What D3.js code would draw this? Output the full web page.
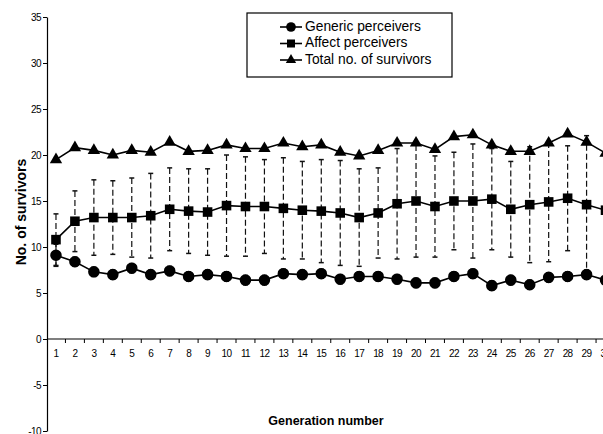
<!DOCTYPE html>
<html>
<head>
<meta charset="utf-8">
<script src="https://cdn.jsdelivr.net/npm/d3@7"></script>
<style>
  html, body { margin: 0; padding: 0; background: #fff; }
  svg { display: block; }
  text { font-family: Arial, "Liberation Sans", sans-serif; fill: #000; }
</style>
</head>
<body>
<svg id="chart" width="603" height="434"></svg>
<script>
// ---- data ----
const generations = d3.range(1, 31).map(String);
const genericPerceivers = [9.1, 8.4, 7.3, 7.0, 7.7, 7.0, 7.4, 6.8, 7.0, 6.8, 6.4, 6.4, 7.1, 7.0, 7.1, 6.5, 6.8, 6.8, 6.5, 6.1, 6.1, 6.8, 7.1, 5.8, 6.4, 5.9, 6.7, 6.8, 7.0, 6.4];
const genericSD = [1.2, 0.5, 0.5, 0.5, 0.5, 0.5, 0.5, 0.5, 0.5, 0.5, 0.5, 0.5, 0.5, 0.5, 0.5, 0.5, 0.5, 0.5, 0.5, 0.5, 0.5, 0.5, 0.5, 0.5, 0.5, 0.5, 0.5, 0.5, 0.5, 0.5];
const affectPerceivers = [10.8, 12.8, 13.2, 13.2, 13.2, 13.4, 14.1, 13.9, 13.8, 14.5, 14.4, 14.4, 14.2, 14.0, 13.9, 13.7, 13.2, 13.7, 14.7, 15.0, 14.4, 15.0, 15.0, 15.2, 14.1, 14.6, 14.9, 15.3, 14.6, 14.0];
const affectSD = [2.8, 3.3, 4.1, 4.0, 4.3, 4.6, 4.5, 4.6, 4.7, 5.5, 5.4, 5.1, 5.5, 5.3, 5.6, 5.7, 5.3, 4.9, 6.0, 6.1, 5.5, 5.3, 6.2, 5.5, 5.2, 6.3, 6.5, 5.7, 7.5, 6.0];
const totalSurvivors = [19.5, 20.8, 20.5, 20.0, 20.5, 20.3, 21.4, 20.4, 20.5, 21.1, 20.7, 20.7, 21.3, 20.9, 21.1, 20.3, 19.9, 20.5, 21.3, 21.3, 20.6, 22.0, 22.2, 21.1, 20.4, 20.4, 21.3, 22.3, 21.4, 20.2];
const yTicks = [-10, -5, 0, 5, 10, 15, 20, 25, 30, 35];
const seriesNames = ["Generic perceivers", "Affect perceivers", "Total no. of survivors"];

// ---- layout ----
const svg = d3.select("#chart");
const x = d3.scaleBand().domain(generations).range([46.5, 46.5 + 30 * 18.95]).padding(0);
const y = d3.scaleLinear().domain([-10, 35]).range([431, 17]);
const cx = d => x(d) + x.bandwidth() / 2;

const series = [
  { name: seriesNames[0], values: genericPerceivers, sd: genericSD, symbol: d3.symbolCircle, size: 105 },
  { name: seriesNames[1], values: affectPerceivers, sd: affectSD, symbol: d3.symbolSquare, size: 92 },
  { name: seriesNames[2], values: totalSurvivors, sd: null, symbol: d3.symbolTriangle, size: 66 }
];

// Y axis
const yAxis = d3.axisLeft(y).tickValues(yTicks).tickFormat(d => String(d))
  .tickSize(4).tickSizeOuter(0).tickPadding(2);
const gy = svg.append("g").attr("transform", "translate(47,0)").call(yAxis);
gy.select(".domain").attr("stroke", "#000").attr("stroke-width", 1.2);
gy.selectAll(".tick line").attr("stroke", "#000");
gy.selectAll(".tick text").attr("font-size", 10).attr("font-family", "Arial, sans-serif").style("letter-spacing", "-0.6px");

// X axis at y = 0
const xAxis = d3.axisBottom(x).tickSize(0).tickPadding(11);
const gx = svg.append("g").attr("transform", `translate(0,${y(0)})`).call(xAxis);
gx.select(".domain").remove();
gx.selectAll(".tick text").attr("font-size", 10).attr("font-family", "Arial, sans-serif").style("letter-spacing", "-0.6px");
svg.append("line").attr("x1", 47).attr("x2", 603).attr("y1", y(0)).attr("y2", y(0))
  .attr("stroke", "#000").attr("stroke-width", 1.2);
svg.append("g").selectAll("line").data(generations).join("line")
  .attr("x1", d => x(d) + x.bandwidth()).attr("x2", d => x(d) + x.bandwidth())
  .attr("y1", y(0)).attr("y2", y(0) + 4).attr("stroke", "#000");

// error bars
series.filter(s => s.sd).forEach(s => {
  const g = svg.append("g");
  const data = generations.map((gname, i) => ({ g: gname, v: s.values[i], e: s.sd[i] }));
  g.selectAll("line.bar").data(data).join("line").attr("class", "bar")
    .attr("x1", d => cx(d.g)).attr("x2", d => cx(d.g))
    .attr("y1", d => y(d.v + d.e)).attr("y2", d => y(d.v - d.e))
    .attr("stroke", "#111").attr("stroke-width", 1.2).attr("stroke-dasharray", "6,3");
  ["+", "-"].forEach(sign => {
    g.selectAll("line.cap" + (sign === "+" ? "u" : "l")).data(data).join("line")
      .attr("x1", d => cx(d.g) - 2.5).attr("x2", d => cx(d.g) + 2.5)
      .attr("y1", d => y(sign === "+" ? d.v + d.e : d.v - d.e))
      .attr("y2", d => y(sign === "+" ? d.v + d.e : d.v - d.e))
      .attr("stroke", "#111").attr("stroke-width", 1.5);
  });
});

// lines + markers
const line = d3.line().x(d => cx(d.g)).y(d => y(d.v));
series.forEach(s => {
  const data = generations.map((gname, i) => ({ g: gname, v: s.values[i] }));
  svg.append("path").datum(data).attr("d", line).attr("fill", "none")
    .attr("stroke", "#000").attr("stroke-width", 1.6);
  svg.append("g").selectAll("path").data(data).join("path")
    .attr("transform", d => `translate(${cx(d.g)},${y(d.v)})`)
    .attr("d", d3.symbol().type(s.symbol).size(s.size)).attr("fill", "#000");
});

// axis titles
svg.append("text").attr("transform", "translate(22,212) rotate(-90)")
  .attr("text-anchor", "middle").attr("dominant-baseline", "middle")
  .attr("font-size", 14).attr("font-weight", "bold").text("No. of survivors");
svg.append("text").attr("x", 326).attr("y", 425).attr("text-anchor", "middle")
  .attr("font-size", 12.5).attr("font-weight", "bold").text("Generation number");

// legend
const leg = svg.append("g");
leg.append("rect").attr("x", 247).attr("y", 13).attr("width", 205).attr("height", 64)
  .attr("fill", "#fff").attr("stroke", "#000").attr("stroke-width", 1.2);
series.forEach((s, i) => {
  const yy = 27 + i * 16.5;
  leg.append("line").attr("x1", 280).attr("x2", 302).attr("y1", yy).attr("y2", yy)
    .attr("stroke", "#000").attr("stroke-width", 1.6);
  leg.append("path").attr("transform", `translate(291,${yy})`)
    .attr("d", d3.symbol().type(s.symbol).size(s.size * 0.7)).attr("fill", "#000");
  leg.append("text").attr("x", 305).attr("y", yy).attr("dominant-baseline", "middle")
    .attr("font-size", 13.8).text(s.name);
});
</script>
</body>
</html>
